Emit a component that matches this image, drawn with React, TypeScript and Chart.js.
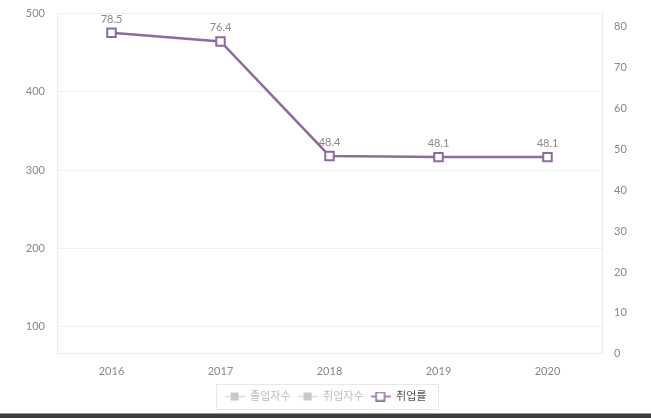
import React, { useEffect, useRef } from "react";
import { Chart, registerables } from "chart.js";

Chart.register(...registerables);

const years = ["2016", "2017", "2018", "2019", "2020"];
const graduates: (number | null)[] = [null, null, null, null, null];
const employed: (number | null)[] = [null, null, null, null, null];
const employmentRate = [78.5, 76.4, 48.4, 48.1, 48.1];
const seriesNames = ["졸업자수", "취업자수", "취업률"];
const leftTicks = [100, 200, 300, 400, 500];
const rightTicks = [0, 10, 20, 30, 40, 50, 60, 70, 80];

const PURPLE = "#8d6a9f";
const FONT = "Lato, 'Noto Sans CJK KR', sans-serif";

function makeIcon(filled: boolean, color: string, fill: string) {
  const c = document.createElement("canvas");
  c.width = 20;
  c.height = 10;
  const ctx = c.getContext("2d")!;
  ctx.strokeStyle = color;
  ctx.lineWidth = filled ? 1 : 1.5;
  ctx.beginPath();
  ctx.moveTo(0, 5);
  ctx.lineTo(20, 5);
  ctx.stroke();
  if (filled) {
    ctx.fillStyle = color;
    ctx.fillRect(6, 1, 8, 8);
  } else {
    ctx.fillStyle = fill;
    ctx.fillRect(5.5, 0.75, 8.5, 8.5);
    ctx.lineWidth = 1.5;
    ctx.strokeRect(5.5, 0.75, 8.5, 8.5);
  }
  return c;
}

export default function App() {
  const ref = useRef<HTMLCanvasElement>(null);
  useEffect(() => {
    document.body.style.margin = "0";
    const iconGray = makeIcon(true, "#c8c8c8", "#c8c8c8");
    const iconRate = makeIcon(false, PURPLE, "#ffffff");

    const labelPlugin = {
      id: "valueLabels",
      afterDatasetsDraw(chart: any) {
        const ctx = chart.ctx;
        const meta = chart.getDatasetMeta(2);
        ctx.save();
        ctx.font = `11px ${FONT}`;
        ctx.fillStyle = "#8a8a8a";
        ctx.textAlign = "center";
        ctx.textBaseline = "bottom";
        meta.data.forEach((pt: any, i: number) => {
          ctx.fillText(String(employmentRate[i]), pt.x, pt.y - 8);
        });
        ctx.restore();
      },
    };
    const legendBorder = {
      id: "legendBorder",
      afterDraw(chart: any) {
        const boxes = chart.legend?.legendHitBoxes;
        if (!boxes || !boxes.length) return;
        let l = Infinity, t = Infinity, r = -Infinity, b = -Infinity;
        boxes.forEach((h: any) => {
          l = Math.min(l, h.left);
          t = Math.min(t, h.top);
          r = Math.max(r, h.left + h.width);
          b = Math.max(b, h.top + h.height);
        });
        const ctx = chart.ctx;
        ctx.save();
        ctx.strokeStyle = "#e8e8e8";
        ctx.lineWidth = 1;
        ctx.strokeRect(Math.round(l - 9) + 0.5, Math.round(t - 7) + 0.5, Math.round(r - l + 20), Math.round(b - t + 14));
        ctx.restore();
      },
    };

    const chart = new Chart(ref.current!, {
      type: "bar",
      data: {
        labels: years,
        datasets: [
          { type: "bar", label: seriesNames[0], data: graduates, yAxisID: "y", backgroundColor: "#c8c8c8" },
          { type: "bar", label: seriesNames[1], data: employed, yAxisID: "y", backgroundColor: "#c8c8c8" },
          {
            type: "line",
            label: seriesNames[2],
            data: employmentRate,
            yAxisID: "y1",
            borderColor: PURPLE,
            borderWidth: 2.5,
            pointStyle: "rect",
            pointRadius: 6,
            pointBorderWidth: 2,
            pointBackgroundColor: "#ffffff",
            pointBorderColor: PURPLE,
            tension: 0,
          } as any,
        ],
      },
      options: {
        animation: false,
        responsive: false,
        devicePixelRatio: 1,
        layout: { padding: { top: 0, left: 0, right: 0, bottom: 1 } },
        plugins: {
          tooltip: { enabled: false },
          legend: {
            position: "bottom",
            onClick: () => {},
            labels: {
              usePointStyle: true,
              pointStyleWidth: 20,
              boxHeight: 10,
              padding: 7,
              font: { family: FONT, size: 11 },
              generateLabels: () =>
                seriesNames.map((n, i) => ({
                  text: n,
                  fillStyle: i === 2 ? "#ffffff" : "#c8c8c8",
                  strokeStyle: i === 2 ? PURPLE : "#c8c8c8",
                  fontColor: i === 2 ? "#555555" : "#bdbdbd",
                  pointStyle: i === 2 ? iconRate : iconGray,
                  hidden: false,
                  lineWidth: 0,
                  datasetIndex: i,
                })) as any,
            },
          },
        },
        scales: {
          x: {
            offset: true,
            grid: { display: false },
            border: { color: "#ececec" },
            ticks: { color: "#888888", font: { family: FONT, size: 11 }, padding: 3 },
            afterFit: (s: any) => {
              s.height += 3;
            },
          },
          y: {
            position: "left",
            min: 65,
            max: 500,
            ticks: { stepSize: 100, color: "#888888", font: { family: FONT, size: 11 }, padding: 12 },
            afterBuildTicks: (s: any) => {
              s.ticks = leftTicks.map((v) => ({ value: v }));
            },
            afterFit: (s: any) => {
              s.width = 57;
            },
            grid: { color: "#efefef", drawTicks: false },
            border: { color: "#ececec" },
          },
          y1: {
            position: "right",
            min: 0,
            max: 83.2,
            ticks: { stepSize: 10, color: "#888888", font: { family: FONT, size: 11 }, padding: 12 },
            afterBuildTicks: (s: any) => {
              s.ticks = rightTicks.map((v) => ({ value: v }));
            },
            afterFit: (s: any) => {
              s.width = 49;
            },
            grid: { drawOnChartArea: false, drawTicks: false },
            border: { color: "#ececec" },
          },
        },
      },
      plugins: [labelPlugin, legendBorder],
    });
    return () => chart.destroy();
  }, []);

  return (
    <div style={{ position: "fixed", left: 0, top: 0, width: 651, height: 418, background: "#ffffff", overflow: "hidden" }}>
      <canvas ref={ref} width={651} height={418} style={{ display: "block", width: 651, height: 418, marginTop: -5 }} />
      <div style={{ position: "absolute", left: 0, top: 413, width: 651, height: 5, background: "#3d3d3d", borderTop: "1px solid #9a9a9a", boxSizing: "border-box" }} />
    </div>
  );
}
